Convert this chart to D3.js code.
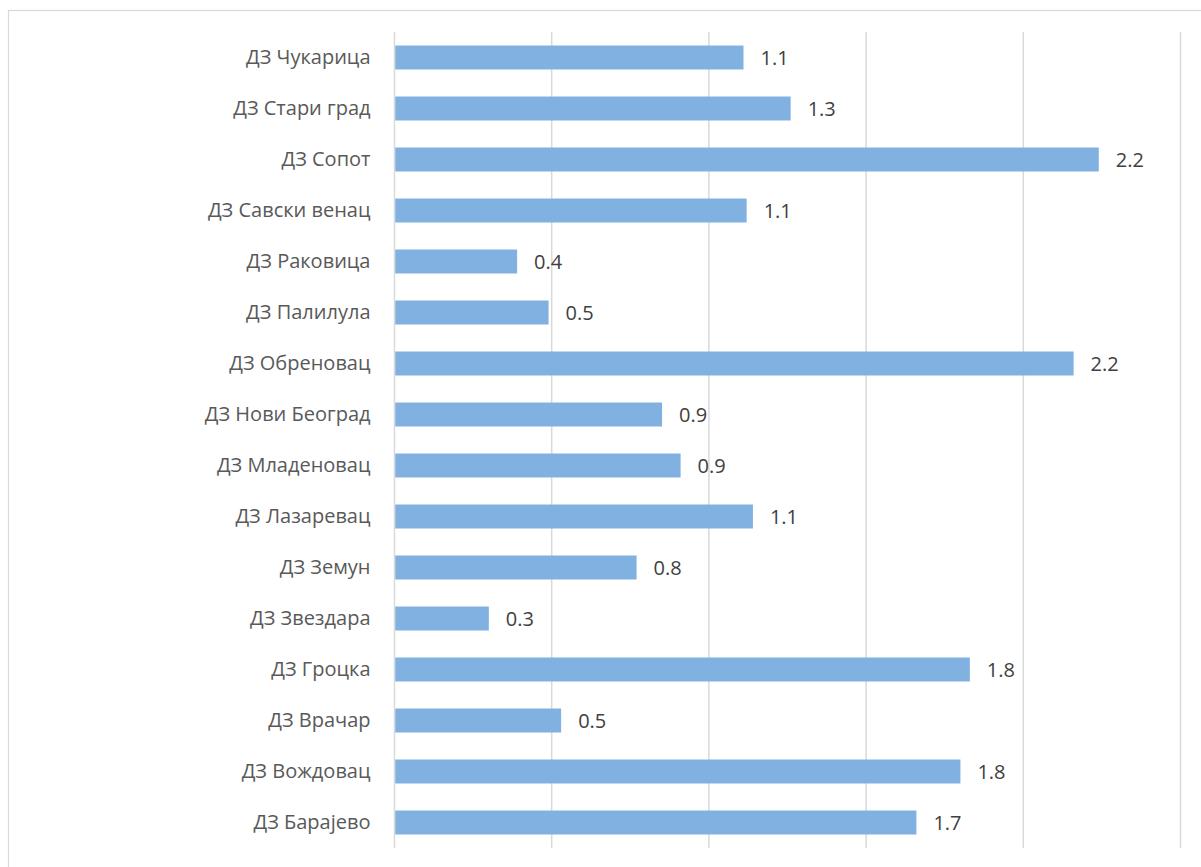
<!DOCTYPE html>
<html>
<head>
<meta charset="utf-8">
<script src="https://cdn.jsdelivr.net/npm/d3@7"></script>
<style>
  html, body { margin: 0; padding: 0; background: #fff; }
  svg { display: block; }
</style>
</head>
<body>
<svg id="chart" width="1201" height="867"></svg>
<script>
// Health centres (Дом здравља), listed top to bottom
const categories = [
  "ДЗ Чукарица", "ДЗ Стари град", "ДЗ Сопот", "ДЗ Савски венац",
  "ДЗ Раковица", "ДЗ Палилула", "ДЗ Обреновац", "ДЗ Нови Београд",
  "ДЗ Младеновац", "ДЗ Лазаревац", "ДЗ Земун", "ДЗ Звездара",
  "ДЗ Гроцка", "ДЗ Врачар", "ДЗ Вождовац", "ДЗ Барајево"
];
const values = [
  1.11, 1.26, 2.24, 1.12,
  0.39, 0.49, 2.16, 0.851,
  0.91, 1.14, 0.77, 0.30,
  1.83, 0.53, 1.80, 1.66
];
const xTicks = [0, 0.5, 1, 1.5, 2, 2.5];

const fontFamily = "'Open Sans', 'Noto Sans', sans-serif";
const fontSize = 20;
const svg = d3.select("#chart");

// Chart frame
svg.append("rect")
  .attr("x", 8.5).attr("y", 10.5)
  .attr("width", 1220).attr("height", 900)
  .attr("fill", "#fff")
  .attr("stroke", "#d9d9d9")
  .attr("stroke-width", 1.2);

const plot = { left: 394.5, right: 1180.5, top: 32, bottom: 848 };

const x = d3.scaleLinear()
  .domain([0, 2.5])
  .range([plot.left, plot.right]);

const y = d3.scaleBand()
  .domain(categories)
  .range([plot.top, plot.bottom])
  .paddingInner(0.53)
  .paddingOuter(0.265);

// Vertical gridlines (including the category axis at 0)
svg.append("g")
  .selectAll("line")
  .data(xTicks)
  .join("line")
  .attr("x1", d => x(d)).attr("x2", d => x(d))
  .attr("y1", plot.top).attr("y2", plot.bottom)
  .attr("stroke", "#d9d9d9")
  .attr("stroke-width", 1.5);

// Bars
svg.append("g")
  .selectAll("rect")
  .data(values)
  .join("rect")
  .attr("x", x(0) + 0.75)
  .attr("y", (d, i) => y(categories[i]))
  .attr("width", d => x(d) - x(0) - 0.75)
  .attr("height", y.bandwidth())
  .attr("fill", "#80b1e0");

// Category labels
const yAxis = d3.axisLeft(y).tickSize(0).tickPadding(24);
const gy = svg.append("g")
  .attr("transform", `translate(${plot.left},0)`)
  .call(yAxis);
gy.select(".domain").remove();
gy.selectAll("text")
  .attr("font-family", fontFamily)
  .attr("font-size", fontSize)
  .attr("fill", "#595959");

// Value labels
const fmt = d3.format(".1f");
svg.append("g")
  .selectAll("text")
  .data(values)
  .join("text")
  .attr("x", d => x(d) + 17)
  .attr("y", (d, i) => y(categories[i]) + y.bandwidth() / 2)
  .attr("dy", "0.35em")
  .attr("font-family", fontFamily)
  .attr("font-size", fontSize)
  .attr("fill", "#404040")
  .text(d => fmt(d));
</script>
</body>
</html>
